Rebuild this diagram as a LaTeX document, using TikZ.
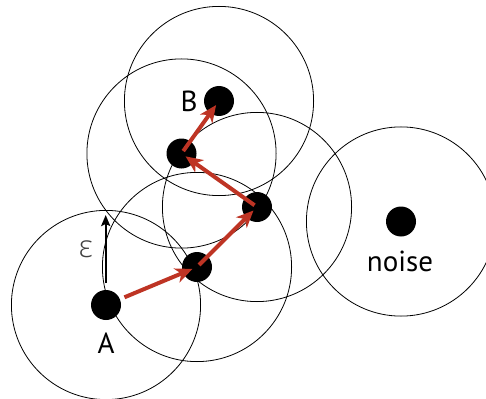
\documentclass[tikz,border=0pt]{standalone}
\usepackage{fontspec}
\setmainfont{PT Sans}
\newfontfamily\grk{Open Sans Light}
\usetikzlibrary{arrows.meta}
\definecolor{redarr}{RGB}{190,52,36}
\begin{document}
\begin{tikzpicture}[x=1pt,y=-1pt,
  ring/.style={draw=black,line width=0.8pt},
  dot/.style={circle,fill=black,minimum size=30pt,inner sep=0pt},
  path/.style={draw=redarr,line width=4pt,-{Stealth[length=17pt,width=15pt,inset=5pt]}},
  lbl/.style={font=\fontsize{29}{31}\selectfont,inner sep=0pt}]
\useasboundingbox (0,0) rectangle (486,398);
\begin{scope}
\clip (0,0) rectangle (486,398);
\coordinate (cA) at (106,305);
\coordinate (c2) at (197,267);
\coordinate (c3) at (257,207);
\coordinate (c4) at (181.5,153.5);
\coordinate (cB) at (219,101);
\coordinate (cN) at (401,221.5);
\foreach \c in {cA,c2,c3,c4,cB,cN}{\draw[ring] (\c) circle (94.6);}
\end{scope}
\node[dot] (A) at (cA) {};
\node[dot] (P2) at (c2) {};
\node[dot] (P3) at (c3) {};
\node[dot] (P4) at (c4) {};
\node[dot] (B) at (cB) {};
\node[dot] (N) at (cN) {};
\coordinate (eps0) at (105.7,283);
\coordinate (eps1) at (105.7,215);
\draw[line width=2.2pt,-{Stealth[length=11pt,width=9pt,inset=2pt]}] (eps0) -- (eps1);
\node[inner sep=0pt,text=black!75,font=\fontsize{31}{33}\selectfont] (eps) at (86,249) {\grk ε};
\draw[path,shorten <=20pt,shorten >=5pt] (A.center) -- (P2.center);
\draw[path,shorten <=3pt,shorten >=5pt] (P2.center) -- (P3.center);
\draw[path,shorten <=3pt,shorten >=5pt] (P3.center) -- (P4.center);
\draw[path,shorten <=3pt,shorten >=5pt] (P4.center) -- (B.center);
\node[lbl] (la) at (106,343) {A};
\node[lbl] (lb) at (189,101.5) {B};
\node[lbl] (ln) at (400,261) {noise};
\end{tikzpicture}
\end{document}
